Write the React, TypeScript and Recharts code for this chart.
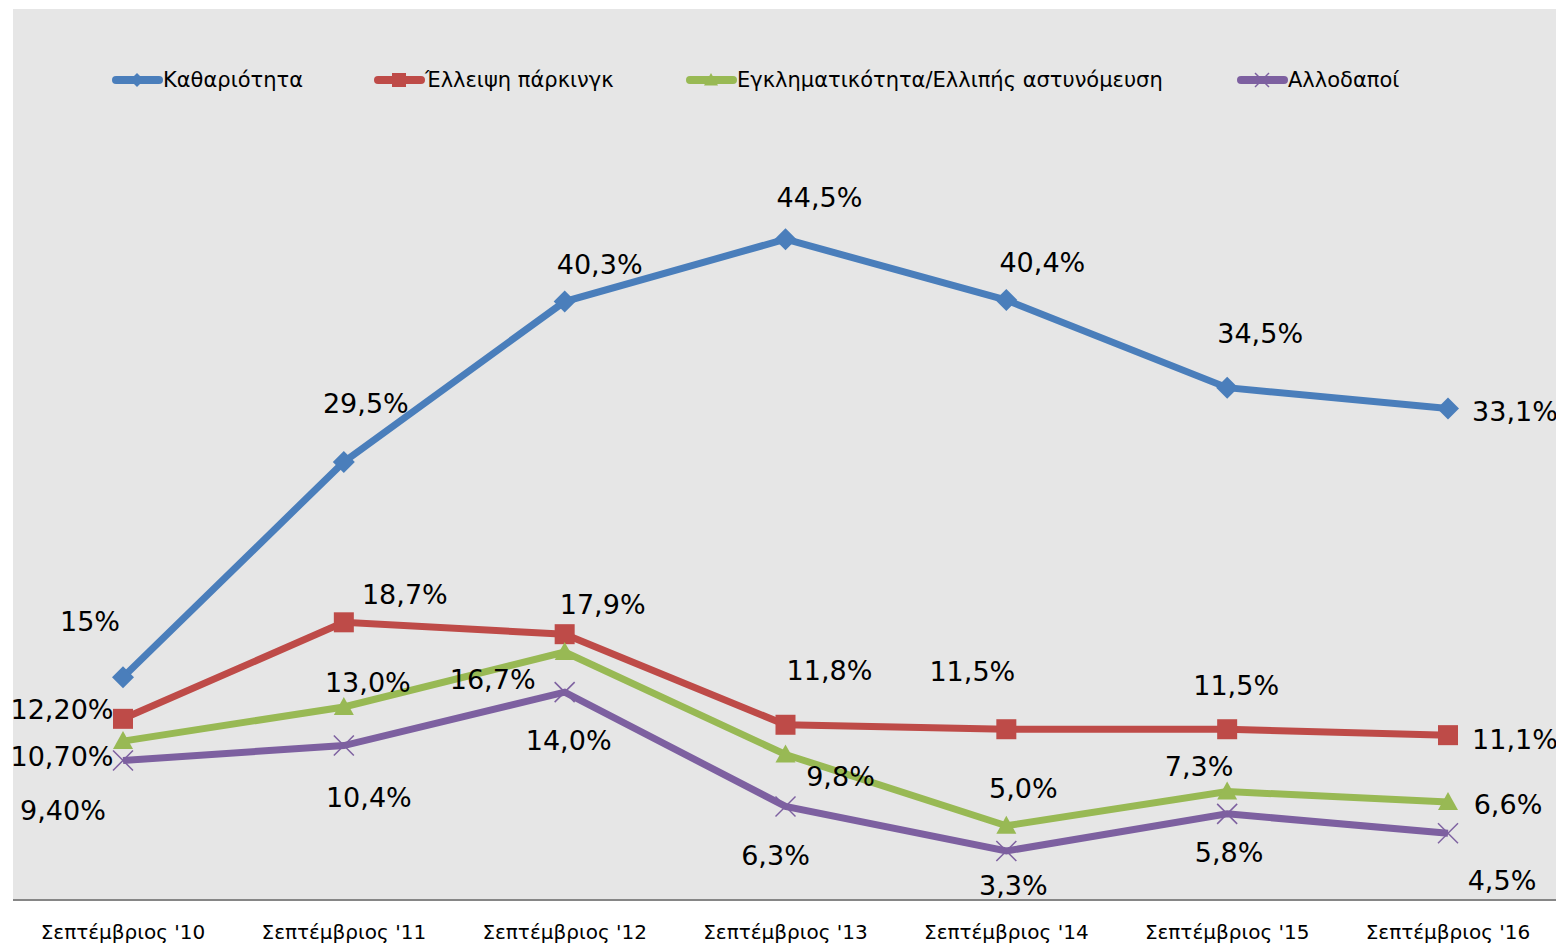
import { LineChart, Line, XAxis, YAxis, CartesianGrid, LabelList } from 'recharts';

const months = [
    "Σεπτέμβριος '10",
    "Σεπτέμβριος '11",
    "Σεπτέμβριος '12",
    "Σεπτέμβριος '13",
    "Σεπτέμβριος '14",
    "Σεπτέμβριος '15",
    "Σεπτέμβριος '16",
];

const cleanliness = [15, 29.5, 40.3, 44.5, 40.4, 34.5, 33.1];
const parking = [12.2, 18.7, 17.9, 11.8, 11.5, 11.5, 11.1];
const crime = [10.7, 13.0, 16.7, 9.8, 5.0, 7.3, 6.6];
const foreigners = [9.4, 10.4, 14.0, 6.3, 3.3, 5.8, 4.5];

const cleanlinessLabels = ['15%', '29,5%', '40,3%', '44,5%', '40,4%', '34,5%', '33,1%'];
const parkingLabels = ['12,20%', '18,7%', '17,9%', '11,8%', '11,5%', '11,5%', '11,1%'];
const crimeLabels = ['10,70%', '13,0%', '16,7%', '9,8%', '5,0%', '7,3%', '6,6%'];
const foreignersLabels = ['9,40%', '10,4%', '14,0%', '6,3%', '3,3%', '5,8%', '4,5%'];

// where each value label sits relative to its point
const cleanlinessOffsets = [[-33, -56], [22, -58], [35, -37], [34, -42], [36, -38], [33, -54], [67, 3]];
const parkingOffsets = [[-61, -9], [61, -28], [38, -30], [44, -54], [-34, -58], [9, -44], [67, 4]];
const crimeOffsets = [[-61, 15], [24, -24], [-72, 27], [55, 22], [17, -37], [-28, -25], [60, 3]];
const foreignersOffsets = [[-60, 50], [25, 52], [4, 48], [-10, 49], [7, 35], [2, 39], [54, 47]];

const data = months.map((month, i) => ({
    month,
    cleanliness: cleanliness[i],
    parking: parking[i],
    crime: crime[i],
    foreigners: foreigners[i],
}));

type Shape = 'diamond' | 'square' | 'triangle' | 'cross';

const series: { key: string; name: string; color: string; shape: Shape; labels: string[]; offsets: number[][] }[] = [
    { key: 'cleanliness', name: 'Καθαριότητα', color: '#4a7ebb', shape: 'diamond', labels: cleanlinessLabels, offsets: cleanlinessOffsets },
    { key: 'parking', name: 'Έλλειψη πάρκινγκ', color: '#be4b48', shape: 'square', labels: parkingLabels, offsets: parkingOffsets },
    { key: 'crime', name: 'Εγκληματικότητα/Ελλιπής αστυνόμευση', color: '#98b954', shape: 'triangle', labels: crimeLabels, offsets: crimeOffsets },
    { key: 'foreigners', name: 'Αλλοδαποί', color: '#7d60a0', shape: 'cross', labels: foreignersLabels, offsets: foreignersOffsets },
];

const FONT = '"DejaVu Sans", sans-serif';

function marker(shape: Shape, cx: number, cy: number, color: string, r: number, key?: string | number) {
    if (shape === 'diamond') {
        return <polygon key={key} points={`${cx},${cy - r} ${cx + r},${cy} ${cx},${cy + r} ${cx - r},${cy}`} fill={color} />;
    }
    if (shape === 'square') {
        return <rect key={key} x={cx - r} y={cy - r} width={r * 2} height={r * 2} fill={color} />;
    }
    if (shape === 'triangle') {
        return <polygon key={key} points={`${cx},${cy - r} ${cx + r},${cy + r * 0.8} ${cx - r},${cy + r * 0.8}`} fill={color} />;
    }
    return (
        <g key={key} stroke={color} strokeWidth={1.5}>
            <line x1={cx - r} y1={cy - r} x2={cx + r} y2={cy + r} />
            <line x1={cx - r} y1={cy + r} x2={cx + r} y2={cy - r} />
        </g>
    );
}

const markerSize: Record<Shape, number> = { diamond: 11, square: 10, triangle: 10, cross: 10 };

const legendLeft = [104, 366, 678, 1229];

function ChartLegend() {
    return (
        <div style={{ position: 'absolute', top: 58, left: 0, height: 30 }}>
            {series.map((s, i) => (
                <div
                    key={s.key}
                    style={{ position: 'absolute', left: legendLeft[i], top: 0, display: 'flex', alignItems: 'center', whiteSpace: 'nowrap' }}
                >
                    <svg width={51} height={28}>
                        <line x1={4} y1={14} x2={47} y2={14} stroke={s.color} strokeWidth={8} strokeLinecap="round" />
                        {marker(s.shape, 25, 14, s.color, 7)}
                    </svg>
                    <span style={{ fontFamily: FONT, fontSize: 21, color: '#000' }}>{s.name}</span>
                </div>
            ))}
        </div>
    );
}

export default function App() {
    return (
        <div style={{ position: 'relative', width: 1556, height: 935 }}>
            <LineChart width={1556} height={935} data={data} margin={{ top: 1, right: 6, left: 5, bottom: 0 }}>
                <CartesianGrid fill="#e6e6e6" stroke="none" horizontal={false} vertical={false} />
                <XAxis
                    dataKey="month"
                    padding={{ left: 110, right: 110 }}
                    tickLine={false}
                    axisLine={{ stroke: '#868686', strokeWidth: 2 }}
                    tickMargin={19}
                    height={43}
                    tick={{ fontFamily: FONT, fontSize: 20, fill: '#000' }}
                    interval={0}
                />
                <YAxis hide domain={[0, 60]} />
                {series.map((s) => (
                    <Line
                        key={s.key}
                        dataKey={s.key}
                        name={s.name}
                        stroke={s.color}
                        strokeWidth={7}
                        isAnimationActive={false}
                        dot={(p: any) => marker(s.shape, p.cx, p.cy, s.color, markerSize[s.shape], p.index)}
                        activeDot={false}
                    >
                        <LabelList
                            dataKey={s.key}
                            content={(p: any) => {
                                const off = s.offsets[p.index];
                                return (
                                    <text
                                        x={p.x + off[0]}
                                        y={p.y + off[1]}
                                        textAnchor="middle"
                                        dominantBaseline="central"
                                        fontFamily={FONT}
                                        fontSize={27}
                                        fill="#000"
                                    >
                                        {s.labels[p.index]}
                                    </text>
                                );
                            }}
                        />
                    </Line>
                ))}
            </LineChart>
            <ChartLegend />
        </div>
    );
}
